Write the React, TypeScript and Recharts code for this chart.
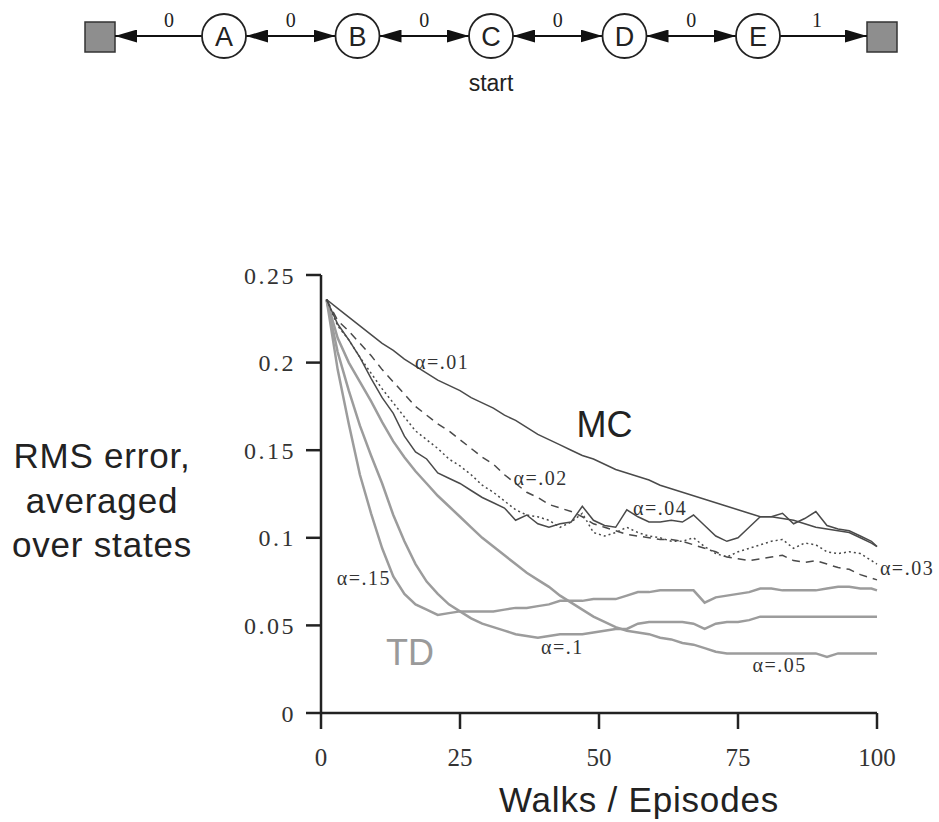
import React from 'react';
import { LineChart, Line, XAxis, YAxis, ReferenceDot } from 'recharts';

// ---------- data ----------
const episodes = [1,3,5,7,9,11,13,15,17,19,21,23,25,27,29,31,33,35,37,39,41,43,45,47,49,51,53,55,57,59,61,63,65,67,69,71,73,75,77,79,81,83,85,87,89,91,93,95,97,99,100];

const mcAlpha01 = [0.236,0.231,0.226,0.221,0.216,0.211,0.207,0.202,0.198,0.194,0.190,0.187,0.184,0.180,0.177,0.174,0.170,0.167,0.163,0.159,0.156,0.153,0.150,0.147,0.145,0.142,0.139,0.137,0.135,0.133,0.130,0.128,0.126,0.124,0.122,0.120,0.118,0.116,0.114,0.112,0.112,0.111,0.110,0.108,0.106,0.105,0.104,0.103,0.100,0.097,0.095];
const mcAlpha02 = [0.236,0.224,0.218,0.211,0.204,0.196,0.189,0.182,0.175,0.170,0.165,0.161,0.156,0.151,0.146,0.142,0.136,0.131,0.126,0.123,0.119,0.117,0.115,0.112,0.108,0.106,0.104,0.102,0.101,0.100,0.099,0.099,0.098,0.096,0.094,0.092,0.089,0.088,0.087,0.088,0.089,0.090,0.087,0.086,0.087,0.085,0.083,0.082,0.079,0.077,0.076];
const mcAlpha03 = [0.236,0.221,0.213,0.203,0.194,0.185,0.177,0.169,0.161,0.156,0.151,0.145,0.141,0.136,0.130,0.126,0.121,0.116,0.113,0.112,0.110,0.106,0.109,0.114,0.103,0.101,0.103,0.106,0.103,0.101,0.100,0.098,0.098,0.100,0.095,0.091,0.089,0.092,0.094,0.096,0.098,0.099,0.094,0.097,0.096,0.092,0.091,0.092,0.091,0.087,0.085];
const mcAlpha04 = [0.236,0.222,0.213,0.203,0.191,0.180,0.171,0.158,0.149,0.145,0.137,0.134,0.131,0.127,0.123,0.120,0.117,0.110,0.113,0.108,0.106,0.108,0.109,0.118,0.110,0.107,0.106,0.116,0.112,0.109,0.109,0.110,0.109,0.113,0.107,0.101,0.098,0.100,0.106,0.112,0.112,0.114,0.108,0.111,0.115,0.107,0.105,0.104,0.101,0.098,0.095];
const tdAlpha15 = [0.236,0.196,0.165,0.136,0.114,0.094,0.078,0.068,0.062,0.059,0.056,0.057,0.058,0.058,0.058,0.058,0.059,0.060,0.060,0.061,0.062,0.064,0.064,0.064,0.065,0.065,0.065,0.067,0.069,0.069,0.070,0.070,0.070,0.070,0.063,0.066,0.067,0.068,0.069,0.071,0.071,0.070,0.070,0.070,0.070,0.071,0.072,0.072,0.071,0.071,0.070];
const tdAlpha10 = [0.236,0.206,0.184,0.164,0.147,0.131,0.113,0.098,0.085,0.075,0.068,0.062,0.058,0.054,0.051,0.049,0.047,0.045,0.044,0.043,0.044,0.045,0.045,0.045,0.046,0.047,0.048,0.048,0.051,0.052,0.052,0.052,0.052,0.051,0.048,0.051,0.052,0.052,0.053,0.055,0.055,0.055,0.055,0.055,0.055,0.055,0.055,0.055,0.055,0.055,0.055];
const tdAlpha05 = [0.236,0.214,0.200,0.189,0.178,0.166,0.155,0.146,0.138,0.131,0.124,0.118,0.112,0.106,0.100,0.095,0.090,0.085,0.080,0.076,0.072,0.067,0.063,0.059,0.055,0.052,0.049,0.047,0.046,0.045,0.043,0.042,0.040,0.039,0.037,0.035,0.034,0.034,0.034,0.034,0.034,0.034,0.034,0.034,0.034,0.032,0.034,0.034,0.034,0.034,0.034];

const xTicks = [0, 25, 50, 75, 100];
const yTicks = [0, 0.05, 0.1, 0.15, 0.2, 0.25];

// annotations: [text, episode, value]
const mcLabels: [string, number, number][] = [
  ['\u03b1=.01', 21.8, 0.2005],
  ['\u03b1=.02', 39.5, 0.134],
  ['\u03b1=.04', 61.0, 0.117],
  ['\u03b1=.03', 105.4, 0.0828],
];
const tdLabels: [string, number, number][] = [
  ['\u03b1=.15', 7.7, 0.077],
  ['\u03b1=.1', 43.4, 0.0375],
  ['\u03b1=.05', 82.5, 0.0275],
];
const groupLabels: [string, number, number, string][] = [
  ['MC', 51, 0.1645, '#222'],
  ['TD', 16, 0.0345, '#9a9a9a'],
];

const yLabelLines = ['RMS error,', 'averaged', 'over states'];
const xLabel = 'Walks / Episodes';

// random walk diagram
const stateNames = ['A', 'B', 'C', 'D', 'E'];
const rewards = ['0', '0', '0', '0', '0', '1'];
const startState = 'C';

const data = episodes.map((ep, i) => ({
  ep,
  mc01: mcAlpha01[i],
  mc02: mcAlpha02[i],
  mc03: mcAlpha03[i],
  mc04: mcAlpha04[i],
  td15: tdAlpha15[i],
  td10: tdAlpha10[i],
  td05: tdAlpha05[i],
}));

const MC_COLOR = '#4a4a4a';
const TD_COLOR = '#9c9c9c';
const SERIF = '"Liberation Serif", "DejaVu Serif", serif';
const SANS = '"Liberation Sans", Arial, sans-serif';

function Diagram() {
  const cy = 36;
  const r = 22;
  const x0 = 224;
  const step = 133.5;
  const leftSq = { x: 85, w: 30 };
  const rightSq = { x: 867, w: 30 };
  const nodesX = stateNames.map((_, i) => x0 + i * step);
  const segs: { x1: number; x2: number; start: boolean; label: string; lx: number }[] = [];
  segs.push({ x1: nodesX[0] - r, x2: leftSq.x + leftSq.w, start: false, label: rewards[0], lx: 169 });
  for (let i = 0; i < nodesX.length - 1; i++) {
    segs.push({ x1: nodesX[i] + r, x2: nodesX[i + 1] - r, start: true, label: rewards[i + 1], lx: (nodesX[i] + nodesX[i + 1]) / 2 });
  }
  segs.push({ x1: nodesX[nodesX.length - 1] + r, x2: rightSq.x, start: false, label: rewards[5], lx: 817 });
  const startIdx = stateNames.indexOf(startState);
  return (
    <svg width={939} height={110} style={{ position: 'absolute', left: 0, top: 0 }}>
      <defs>
        <marker id="ah" markerUnits="userSpaceOnUse" viewBox="0 0 22 13" refX={22} refY={6.5} markerWidth={22} markerHeight={13} orient="auto-start-reverse">
          <path d="M0,0 L22,6.5 L0,13 z" fill="#111" />
        </marker>
      </defs>
      <rect x={leftSq.x} y={cy - 14} width={leftSq.w} height={30} fill="#8e8e8e" stroke="#333" strokeWidth={1.5} />
      <rect x={rightSq.x} y={cy - 14} width={rightSq.w} height={30} fill="#8e8e8e" stroke="#333" strokeWidth={1.5} />
      {segs.map((s, i) => (
        <g key={i}>
          <line x1={s.x1} y1={cy} x2={s.x2} y2={cy} stroke="#111" strokeWidth={2.2}
            markerEnd="url(#ah)" markerStart={s.start ? 'url(#ah)' : undefined} />
          <text x={s.lx} y={27} textAnchor="middle" fontFamily={SERIF} fontSize={20} fill="#222">{s.label}</text>
        </g>
      ))}
      {nodesX.map((x, i) => (
        <g key={stateNames[i]}>
          <circle cx={x} cy={cy} r={r} fill="#fff" stroke="#222" strokeWidth={1.8} />
          <text x={x} y={cy + 10} textAnchor="middle" fontFamily={SANS} fontSize={27} fill="#222">{stateNames[i]}</text>
        </g>
      ))}
      <text x={nodesX[startIdx]} y={91} textAnchor="middle" fontFamily={SANS} fontSize={23} fill="#222">start</text>
    </svg>
  );
}

const textShape = (txt: string, fs: number, family: string, color: string, ls: number) => (p: any) => (
  <text x={p.cx} y={p.cy} textAnchor="middle" dominantBaseline="central" fontFamily={family} fontSize={fs} fill={color} letterSpacing={ls}>{txt}</text>
);

export default function App() {
  return (
    <div style={{ position: 'absolute', left: 0, top: 0, width: 939, height: 822, background: '#fff' }}>
      <LineChart width={939} height={822} data={data} margin={{ top: 275, right: 62, bottom: 29, left: 241 }}>
        <XAxis
          dataKey="ep"
          type="number"
          domain={[0, 100]}
          ticks={xTicks}
          tickSize={16}
          tickMargin={19}
          height={80}
          axisLine={{ stroke: '#222', strokeWidth: 2.5 }}
          tickLine={{ stroke: '#222', strokeWidth: 2.5 }}
          tick={{ fontFamily: SERIF, fontSize: 25, fill: '#333' }}
          label={{
            content: (props: any) => {
              const vb = props.viewBox;
              return (
                <text x={vb.x + vb.width / 2 + 40} y={812} textAnchor="middle" fontFamily={SANS} fontSize={35} letterSpacing={0.8} fill="#222">{xLabel}</text>
              );
            },
          }}
        />
        <YAxis
          type="number"
          domain={[0, 0.25]}
          ticks={yTicks}
          width={80}
          tickSize={15}
          tickMargin={10}
          axisLine={{ stroke: '#222', strokeWidth: 2.5 }}
          tickLine={{ stroke: '#222', strokeWidth: 2.5 }}
          tick={{ fontFamily: SERIF, fontSize: 24, fill: '#333', letterSpacing: 2.5 }}
          tickFormatter={(v: number) => (v === 0 ? '0' : String(v))}
          label={{
            content: () => (
              <text textAnchor="middle" fontFamily={SANS} fontSize={35} letterSpacing={0.8} fill="#222">
                {yLabelLines.map((l, i) => (
                  <tspan key={i} x={102} y={468 + i * 44.5}>{l}</tspan>
                ))}
              </text>
            ),
          }}
        />
        <Line dataKey="td05" stroke={TD_COLOR} strokeWidth={2.5} dot={false} isAnimationActive={false} type="linear" />
        <Line dataKey="td10" stroke={TD_COLOR} strokeWidth={2.5} dot={false} isAnimationActive={false} type="linear" />
        <Line dataKey="td15" stroke={TD_COLOR} strokeWidth={2.5} dot={false} isAnimationActive={false} type="linear" />
        <Line dataKey="mc01" stroke={MC_COLOR} strokeWidth={1.5} dot={false} isAnimationActive={false} type="linear" />
        <Line dataKey="mc02" stroke={MC_COLOR} strokeWidth={1.5} strokeDasharray="8 6" dot={false} isAnimationActive={false} type="linear" />
        <Line dataKey="mc03" stroke={MC_COLOR} strokeWidth={1.5} strokeDasharray="2 3" dot={false} isAnimationActive={false} type="linear" />
        <Line dataKey="mc04" stroke={MC_COLOR} strokeWidth={1.5} dot={false} isAnimationActive={false} type="linear" />
        {mcLabels.map(([t, x, y]) => (
          <ReferenceDot key={t} x={x} y={y} r={0} ifOverflow="visible" shape={textShape(t, 20, SERIF, '#333', 1.5)} />
        ))}
        {tdLabels.map(([t, x, y]) => (
          <ReferenceDot key={t} x={x} y={y} r={0} ifOverflow="visible" shape={textShape(t, 20, SERIF, '#333', 1.5)} />
        ))}
        {groupLabels.map(([t, x, y, c]) => (
          <ReferenceDot key={t} x={x} y={y} r={0} ifOverflow="visible" shape={textShape(t, 36, SANS, c, 0)} />
        ))}
      </LineChart>
      <Diagram />
    </div>
  );
}
